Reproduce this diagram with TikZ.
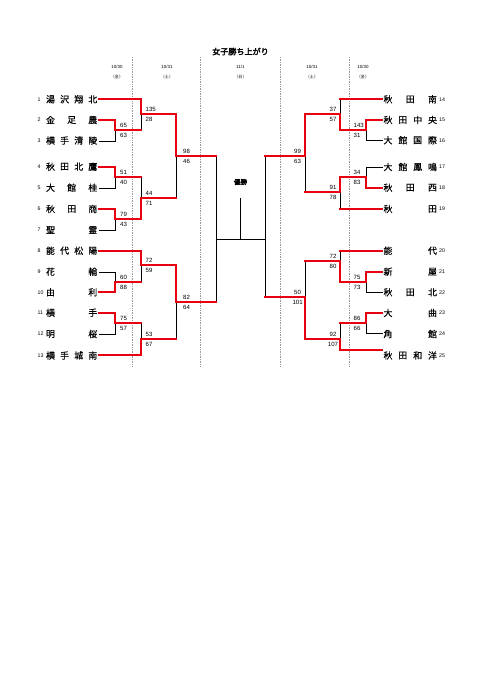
\documentclass[tikz,border=0pt]{standalone}
\usepackage{fontspec}
\setmainfont{Liberation Sans}
\newfontfamily\jp[FakeBold=0.5]{Noto Sans CJK JP}
\newfontfamily\jpr{Noto Sans CJK JP}
\newfontfamily\jpb[FakeBold=2.5]{Noto Sans CJK JP}
\definecolor{wred}{RGB}{232,0,16}
\pgfdeclarelayer{bg}
\pgfdeclarelayer{mid}
\pgfsetlayers{bg,mid,main}
% match: top wins
\newcommand\mt[5]{%
  \coordinate (#1) at (#2,#4);
  \coordinate (#1t) at (#2,#3);
  \coordinate (#1b) at (#2,#5);
  \begin{pgfonlayer}{mid}\draw[lose] (#1) -- (#1b);\end{pgfonlayer}
  \draw[win] (#1t) -- (#1);}
% match: bottom wins
\newcommand\mb[5]{%
  \coordinate (#1) at (#2,#4);
  \coordinate (#1t) at (#2,#3);
  \coordinate (#1b) at (#2,#5);
  \begin{pgfonlayer}{mid}\draw[lose] (#1t) -- (#1);\end{pgfonlayer}
  \draw[win] (#1) -- (#1b);}
% team name, justified
\newcommand\tname[6]{%
  \foreach \ch [count=\k] in {#6} {%
    \node[chr] (#1c\k) at ({#2+(\k-1)*#3/(#5-1)},#4) {\ch};}}
% scores
\newcommand\scW[5]{%
  \node[score,anchor=west] (#1s1) at (#2,#3-5) {#4};
  \node[score,anchor=west] (#1s2) at (#2,#3+5.5) {#5};}
\newcommand\scC[5]{%
  \node[score] (#1s1) at (#2,#3-5) {#4};
  \node[score] (#1s2) at (#2,#3+5.5) {#5};}
\begin{document}
\begin{tikzpicture}[x=1.2376pt, y=-1.2376pt,
  win/.style={draw=wred, line width=2.475pt, line cap=rect},
  lose/.style={draw=black, line width=1.2376pt, line cap=rect,
               transform canvas={shift={(0.5,0.5)}}},
  sep/.style={draw=gray!80, line width=0.6pt, dash pattern=on 1pt off 1.1pt},
  score/.style={font=\fontsize{7.5}{7.5}\selectfont, inner sep=0pt},
  num/.style={font=\fontsize{6.5}{6.5}\selectfont, inner sep=0pt, anchor=west},
  chr/.style={font=\jp\fontsize{11}{11}\selectfont, inner sep=0pt},
  date/.style={font=\fontsize{5.5}{5.5}\selectfont, inner sep=0pt},
  wday/.style={font=\jpr\fontsize{5}{5}\selectfont, inner sep=0pt}]
\begin{pgfonlayer}{bg}
\fill[white] (0,0) rectangle (481,680);
\end{pgfonlayer}
\useasboundingbox (0,0) rectangle (481,680);

% title and dates
\node[font=\jpb\fontsize{10}{10}\selectfont, inner sep=0pt] (title) at (240.5,51.5) {女子勝ち上がり};
\node[date] (d1) at (117,66.5) {10/30};
\node[wday] (w1) at (117,77) {（金）};
\node[date] (d2) at (167,66.5) {10/31};
\node[wday] (w2) at (167,77) {（土）};
\node[date] (d3) at (240.5,66.5) {11/1};
\node[wday] (w3) at (240.5,77) {（日）};
\node[date] (d4) at (312,66.5) {10/31};
\node[wday] (w4) at (312,77) {（土）};
\node[date] (d5) at (363,66.5) {10/30};
\node[wday] (w5) at (363,77) {（金）};

% dotted separators
\begin{pgfonlayer}{bg}
\foreach \xx/\nm in {132.5/s1,200.5/s2,280.5/s3,349.5/s4} {
  \coordinate (\nm t) at (\xx,57);
  \coordinate (\nm b) at (\xx,367);
  \draw[sep] (\nm t) -- (\nm b);}
\end{pgfonlayer}

% ---------- left matches ----------
\mt{A}{115}{120}{130}{141}
\mt{B}{141}{99}{114}{130}
\mt{C}{115}{167}{177}{188}
\mt{D}{115}{209}{219}{230}
\mb{E}{141}{177}{198}{219}
\mt{F}{176}{114}{156}{198}
\mb{G}{115}{272}{282}{292}
\mt{H}{141}{251}{265}{282}
\mt{I}{115}{313}{323}{334}
\mb{J}{141}{323}{339}{355}
\mt{K}{176}{265}{302}{339}
\coordinate (SL) at (216,239);
\coordinate (SLt) at (216,156);
\coordinate (SLb) at (216,302);

% ---------- right matches ----------
\mt{a}{366}{120}{130}{140}
\mb{b}{340}{99}{114}{130}
\mb{c}{366}{167}{177}{188}
\mt{d}{340}{177}{192}{209}
\mt{e}{305}{114}{156}{192}
\mt{f}{366}{272}{282}{292}
\mb{g}{340}{251}{261}{282}
\mt{h}{366}{313}{323}{333}
\mb{i}{340}{323}{339}{350}
\mb{j}{305}{261}{297}{339}
\coordinate (SR) at (265,239);
\coordinate (SRt) at (265,156);
\coordinate (SRb) at (265,297);

% ---------- final ----------
\coordinate (champ) at (240,198);
\begin{pgfonlayer}{mid}
\draw[lose] (SLt) -- (SLb);
\draw[lose] (SRt) -- (SRb);
\draw[lose] (SL) -- (SR);
\draw[lose] (champ |- SL) -- (champ);
\end{pgfonlayer}
\node[font=\jpb\fontsize{8}{8}\selectfont, inner sep=0pt] (yusho) at (240.5,182) {優勝};

% ---------- match outputs (winners) ----------
\draw[win] (A) -- (A -| B);
\draw[win] (B) -- (B -| F);
\draw[win] (C) -- (C -| E);
\draw[win] (D) -- (D -| E);
\draw[win] (E) -- (E -| F);
\draw[win] (F) -- (F -| SL);
\draw[win] (G) -- (G -| H);
\draw[win] (H) -- (H -| K);
\draw[win] (I) -- (I -| J);
\draw[win] (J) -- (J -| K);
\draw[win] (K) -- (K -| SL);
\draw[win] (a) -- (a -| b);
\draw[win] (b) -- (b -| e);
\draw[win] (c) -- (c -| d);
\draw[win] (d) -- (d -| e);
\draw[win] (e) -- (e -| SR);
\draw[win] (f) -- (f -| g);
\draw[win] (g) -- (g -| j);
\draw[win] (h) -- (h -| i);
\draw[win] (i) -- (i -| j);
\draw[win] (j) -- (j -| SR);

% ---------- team lines left ----------
\coordinate (tL1) at (99,99);   \draw[win] (tL1) -- (tL1 -| B);
\coordinate (tL2) at (99,120);  \draw[win] (tL2) -- (tL2 -| A);
\coordinate (tL3) at (99,141);
\coordinate (tL4) at (99,167);  \draw[win] (tL4) -- (tL4 -| C);
\coordinate (tL5) at (99,188);
\coordinate (tL6) at (99,209);  \draw[win] (tL6) -- (tL6 -| D);
\coordinate (tL7) at (99,230);
\coordinate (tL8) at (99,251);  \draw[win] (tL8) -- (tL8 -| H);
\coordinate (tL9) at (99,272);
\coordinate (tL10) at (99,292); \draw[win] (tL10) -- (tL10 -| G);
\coordinate (tL11) at (99,313); \draw[win] (tL11) -- (tL11 -| I);
\coordinate (tL12) at (99,334);
\coordinate (tL13) at (99,355); \draw[win] (tL13) -- (tL13 -| J);
% ---------- team lines right ----------
\coordinate (tR14) at (382,99);  \draw[win] (tR14) -- (tR14 -| b);
\coordinate (tR15) at (382,120); \draw[win] (tR15) -- (tR15 -| a);
\coordinate (tR16) at (382,140);
\coordinate (tR17) at (382,167);
\coordinate (tR18) at (382,188); \draw[win] (tR18) -- (tR18 -| c);
\coordinate (tR19) at (382,209); \draw[win] (tR19) -- (tR19 -| d);
\coordinate (tR20) at (382,251); \draw[win] (tR20) -- (tR20 -| g);
\coordinate (tR21) at (382,272); \draw[win] (tR21) -- (tR21 -| f);
\coordinate (tR22) at (382,292);
\coordinate (tR23) at (382,313); \draw[win] (tR23) -- (tR23 -| h);
\coordinate (tR24) at (382,333);
\coordinate (tR25) at (382,350); \draw[win] (tR25) -- (tR25 -| i);
\begin{pgfonlayer}{mid}
\draw[lose] (tL3) -- (tL3 -| A);
\draw[lose] (tL5) -- (tL5 -| C);
\draw[lose] (tL7) -- (tL7 -| D);
\draw[lose] (tL9) -- (tL9 -| G);
\draw[lose] (tL12) -- (tL12 -| I);
\draw[lose] (tR16) -- (tR16 -| a);
\draw[lose] (tR17) -- (tR17 -| c);
\draw[lose] (tR22) -- (tR22 -| f);
\draw[lose] (tR24) -- (tR24 -| h);
\end{pgfonlayer}

% ---------- scores ----------
\scW{A}{120}{130}{65}{63}
\scW{B}{145.5}{114}{135}{28}
\scW{C}{120}{177}{51}{40}
\scW{D}{120}{219}{79}{43}
\scW{E}{145.5}{198}{44}{71}
\scW{F}{183}{156}{98}{46}
\scW{G}{120}{282}{60}{88}
\scW{H}{145.5}{265}{72}{59}
\scW{I}{120}{323}{75}{57}
\scW{J}{145.5}{339}{53}{67}
\scW{K}{183}{302}{82}{64}
\scW{a}{353.5}{130}{143}{31}
\scC{b}{333}{114}{37}{57}
\scW{c}{353.5}{177}{34}{83}
\scC{d}{333}{192}{91}{78}
\scC{e}{297.6}{156}{99}{63}
\scW{f}{353.5}{282}{75}{73}
\scC{g}{333}{261}{72}{80}
\scW{h}{353.5}{323}{86}{66}
\scC{i}{333}{339}{92}{107}
\scC{j}{297.6}{297}{50}{101}

% ---------- team numbers ----------
\foreach \nn/\yy in {1/99.3,2/120,3/140.5,4/166.7,5/187.7,6/209,7/230,8/250.7,9/271.7,10/292.3,11/312.7,12/334,13/355.5}
  \node[num] (n\nn) at (37.5,\yy) {\nn};
\foreach \nn/\yy in {14/99.3,15/120,16/140.3,17/167,18/187.7,19/209,20/250.7,21/271.7,22/292.3,23/313,24/334,25/355.5}
  \node[num] (n\nn) at (439,\yy) {\nn};

% ---------- team names ----------
\tname{L1}{50.5}{42.3}{99.3}{4}{湯,沢,翔,北}
\tname{L2}{50.5}{42.3}{120}{3}{金,足,農}
\tname{L3}{50.5}{42.3}{140.5}{4}{横,手,清,陵}
\tname{L4}{50.5}{42.3}{166.7}{4}{秋,田,北,鷹}
\tname{L5}{50.5}{42.3}{187.7}{3}{大,館,桂}
\tname{L6}{50.5}{42.3}{209}{3}{秋,田,商}
\tname{L7}{50.5}{42.3}{230}{2}{聖,霊}
\tname{L8}{50.5}{42.3}{250.7}{4}{能,代,松,陽}
\tname{L9}{50.5}{42.3}{271.7}{2}{花,輪}
\tname{L10}{50.5}{42.3}{292.3}{2}{由,利}
\tname{L11}{50.5}{42.3}{312.7}{2}{横,手}
\tname{L12}{50.5}{42.3}{334}{2}{明,桜}
\tname{L13}{50.5}{42.3}{355.5}{4}{横,手,城,南}
\tname{R14}{388}{44.5}{99.3}{3}{秋,田,南}
\tname{R15}{388}{44.5}{120}{4}{秋,田,中,央}
\tname{R16}{388}{44.5}{140.3}{4}{大,館,国,際}
\tname{R17}{388}{44.5}{167}{4}{大,館,鳳,鳴}
\tname{R18}{388}{44.5}{187.7}{3}{秋,田,西}
\tname{R19}{388}{44.5}{209}{2}{秋,田}
\tname{R20}{388}{44.5}{250.7}{2}{能,代}
\tname{R21}{388}{44.5}{271.7}{2}{新,屋}
\tname{R22}{388}{44.5}{292.3}{3}{秋,田,北}
\tname{R23}{388}{44.5}{313}{2}{大,曲}
\tname{R24}{388}{44.5}{334}{2}{角,館}
\tname{R25}{388}{44.5}{355.5}{4}{秋,田,和,洋}
\end{tikzpicture}
\end{document}
